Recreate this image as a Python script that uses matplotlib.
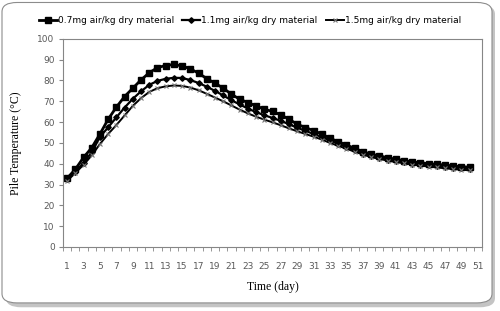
import matplotlib
matplotlib.use("Agg")
import matplotlib.pyplot as plt
from matplotlib.patches import FancyBboxPatch

# day index (categories) and pile temperatures
days = list(range(1, 52))
t07 = [33, 37.3, 43, 47.7, 54.3, 61.4, 67.2, 72.3, 76.3, 80.3,
       83.7, 86.2, 87.2, 87.7, 87, 85.6, 83.5, 80.9, 78.7, 76.3,
       73.4, 71.0, 69.4, 67.8, 66.2, 65.1, 63.5, 61.4, 59, 57.4,
       55.9, 54.3, 52.2, 50.6, 49, 47.4, 45.8, 44.6, 43.8, 42.9,
       42.2, 41.5, 40.9, 40.5, 40, 39.7, 39.4, 38.9, 38.6, 38.3]
t11 = [32.8, 36, 40.5, 45.5, 52.9, 57.5, 62.3, 67, 71.2, 74.8,
       77.9, 79.8, 80.8, 81.3, 81.2, 80.2, 78.8, 77, 75, 72.8,
       70.5, 68.5, 66.5, 64.8, 63.3, 62, 60.6, 59, 57.3, 55.8,
       54.3, 52.8, 51.2, 49.6, 48, 46.4, 44.8, 43.6, 42.7, 41.9,
       41.2, 40.6, 40.1, 39.6, 39.2, 38.8, 38.4, 38.1, 37.8, 37.5]
t15 = [31.8, 35.5, 39.5, 44, 49.5, 54.3, 58.6, 63.2, 67.8, 71.5,
       74.5, 76.3, 77.2, 77.6, 77.4, 76.6, 75.3, 73.6, 71.8, 70,
       68, 66, 64.2, 62.6, 61.2, 59.9, 58.5, 57, 55.6, 54.3,
       53, 51.6, 50, 48.6, 47.2, 45.8, 44.4, 43.2, 42.3, 41.5,
       40.8, 40.2, 39.6, 39.1, 38.6, 38.2, 37.8, 37.4, 37.1, 36.8]
labels = ["0.7mg air/kg dry material", "1.1mg air/kg dry material",
          "1.5mg air/kg dry material"]

fig = plt.figure(figsize=(5, 3.11), dpi=100)

# rounded chart frame with a soft shadow
shadow = FancyBboxPatch((0.012, 0.012), 0.978, 0.972, boxstyle="round,pad=0,rounding_size=0.03",
                        transform=fig.transFigure, fc="#c4c4c4", ec="none", zorder=-2)
frame = FancyBboxPatch((0.004, 0.026), 0.98, 0.966, boxstyle="round,pad=0,rounding_size=0.03",
                       transform=fig.transFigure, fc="white", ec="#8c8c8c", lw=0.8, zorder=-1)
fig.patches.extend([shadow, frame])

ax = fig.add_axes([0.126, 0.206, 0.838, 0.669])
x = [d - 0.5 for d in days[:len(t07)]]
ax.plot(x, t07, color="black", lw=2, marker="s", ms=5, label=labels[0])
ax.plot(x, t11, color="black", lw=1.6, marker="D", ms=2.8, label=labels[1])
ax.plot(x, t15, color="black", lw=1.4, marker="x", ms=3.5, mec="#777777", mew=0.8, label=labels[2])

ax.set_xlim(0, 51)
ax.set_ylim(0, 100)
ax.set_yticks(range(0, 101, 10))
ax.set_xticks([d - 0.5 for d in days[::2]])
ax.set_xticklabels([str(d) for d in days[::2]])
ax.set_xticks(range(0, 52), minor=True)
ax.tick_params(axis="x", which="major", length=0, labelsize=6.5, colors="#595959", pad=11)
ax.tick_params(axis="x", which="minor", length=3, color="#868686", direction="out")
ax.tick_params(axis="y", length=3, color="#868686", labelsize=6.5, labelcolor="#595959", pad=3)
for lab in ax.get_xticklabels() + ax.get_yticklabels():
    lab.set_fontfamily("DejaVu Sans")
for s in ax.spines.values():
    s.set_color("#868686")
    s.set_linewidth(0.8)

ax.set_xlabel("Time (day)", fontfamily="Liberation Serif", fontsize=8.5, labelpad=7)
ax.set_ylabel("Pile Temperature (°C)", fontfamily="Liberation Serif", fontsize=8.5, labelpad=11)

fig.legend(loc="upper center", bbox_to_anchor=(0.5, 0.975), ncol=3, frameon=False,
           prop={"family": "DejaVu Sans", "size": 6.5}, handlelength=2.0,
           handletextpad=0.1, columnspacing=0.9)

fig.savefig("out.png", dpi=100)
